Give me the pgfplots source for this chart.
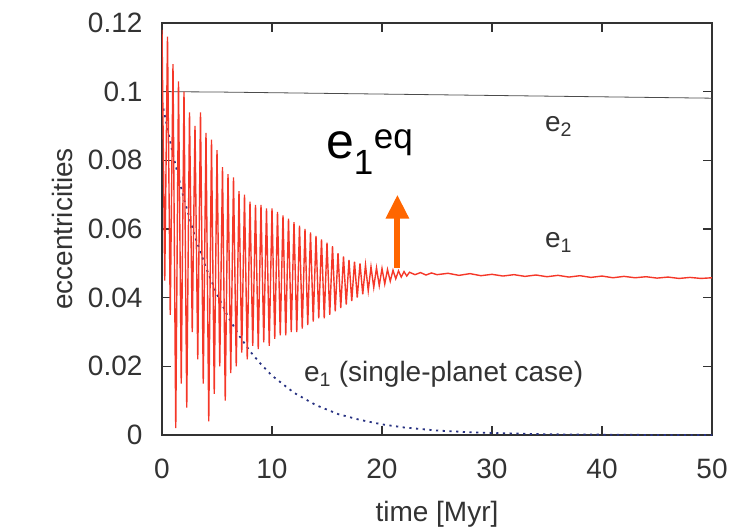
\documentclass[border=0pt]{standalone}
\usepackage{pgfplots}
\pgfplotsset{compat=1.18}
\usepackage{fontspec}
\setmainfont{Liberation Sans}
\usetikzlibrary{arrows.meta}
\definecolor{eone}{RGB}{245,55,40}
\definecolor{arroworange}{RGB}{255,102,0}
\definecolor{single}{RGB}{40,50,130}
\definecolor{axgray}{RGB}{50,50,50}
\begin{document}
\fontsize{28}{32}\selectfont
\begin{tikzpicture}
\begin{axis}[
  scale only axis,
  width=550pt, height=412pt,
  xmin=0, xmax=50, ymin=0, ymax=0.12,
  xtick={0,10,20,30,40,50},
  ytick={0,0.02,0.04,0.06,0.08,0.1,0.12},
  yticklabels={0,0.02,0.04,0.06,0.08,0.1,0.12},
  tick align=inside,
  major tick length=9pt,
  axis line style={axgray, line width=1.6pt},
  every tick/.style={axgray, line width=1.4pt},
  tick label style={font=\fontsize{28}{32}\selectfont, text=black!80},
  /pgf/number format/assume math mode=true,
  xticklabel style={yshift=-14pt},
  yticklabel style={xshift=-10pt},
  xlabel={time [Myr]},
  ylabel={eccentricities},
  label style={font=\fontsize{28}{32}\selectfont, text=black!80},
  xlabel style={yshift=-4pt},
  ylabel style={yshift=-4pt},
  clip=true,
]
\coordinate (sw) at (rel axis cs:0,0);
\coordinate (ne) at (rel axis cs:1,1);
% e2
\addplot[black!70, line width=0.8pt] coordinates {
(0,0.1000) (5,0.0999) (10,0.0997) (15,0.0995) (20,0.0993) (25,0.0991)
(30,0.0989) (35,0.0987) (40,0.0985) (45,0.0983) (50,0.0981)
};
% e1 (single planet)
\addplot[single, line width=1.8pt, dash pattern=on 2.2pt off 4.5pt] coordinates {
(0,0.0970) (1,0.0816) (2,0.0687) (3,0.0578) (4,0.0487) (5,0.0410)
(6,0.0345) (7,0.0290) (8,0.0244) (9,0.0206) (10,0.0173) (12,0.0123)
(14,0.0087) (16,0.0061) (18,0.0044) (20,0.0031) (22,0.0022) (25,0.0013)
(28,0.0008) (30,0.0006) (35,0.0002) (40,0.0001) (45,0.0000) (50,0.0000)
};
% e1
\addplot[eone, line width=1.4pt] coordinates {
(0,0.118) (0.25,0.045) (0.5,0.116) (0.75,0.035) (1.0,0.108) (1.25,0.002)
(1.5,0.103) (1.75,0.015) (2.0,0.100) (2.25,0.008) (2.5,0.094) (2.75,0.030)
(3.0,0.090) (3.25,0.022) (3.5,0.094) (3.75,0.015) (4.0,0.088) (4.25,0.004)
(4.5,0.086) (4.75,0.012) (5.0,0.083) (5.25,0.020) (5.5,0.078) (5.75,0.010)
(6.0,0.076) (6.25,0.018) (6.5,0.075) (6.75,0.020) (7.0,0.071) (7.25,0.024)
(7.5,0.070) (7.75,0.022) (8.0,0.068) (8.25,0.026) (8.5,0.067) (8.75,0.025)
(9.0,0.067) (9.25,0.027) (9.5,0.066) (9.75,0.026) (10.0,0.066) (10.25,0.028)
(10.5,0.065) (10.75,0.029) (11.0,0.064) (11.25,0.029) (11.5,0.063) (11.75,0.030)
(12.0,0.062) (12.25,0.030) (12.5,0.061) (12.75,0.031) (13.0,0.060) (13.25,0.032)
(13.5,0.059) (13.75,0.033) (14.0,0.058) (14.25,0.034) (14.5,0.057) (14.75,0.034)
(15.0,0.056) (15.25,0.035) (15.5,0.055) (15.75,0.036) (16.0,0.053) (16.25,0.037)
(16.5,0.052) (16.75,0.038) (17.0,0.051) (17.25,0.039) (17.5,0.0505) (17.75,0.040)
(18.0,0.050) (18.25,0.041) (18.5,0.0495) (18.75,0.042) (19.0,0.049) (19.25,0.043)
(19.5,0.0487) (19.75,0.0435) (20.0,0.0485) (20.25,0.044) (20.5,0.0482) (20.75,0.0448)
(21.0,0.048) (21.25,0.0455) (21.5,0.0478) (21.75,0.046) (22.0,0.0476) (22.25,0.0463)
(22.5,0.0474) (23,0.0467) (23.5,0.0473) (24,0.0466) (24.5,0.0472) (25,0.0467)
(26,0.0471) (27,0.0465) (28,0.0470) (29,0.0464) (30,0.0468) (31,0.0463)
(32,0.0467) (33,0.0462) (34,0.0466) (35,0.0461) (36,0.0465) (37,0.0460)
(38,0.0464) (39,0.0459) (40,0.0463) (41,0.0458) (42,0.0462) (43,0.0458)
(44,0.0461) (45,0.0457) (46,0.0460) (47,0.0456) (48,0.0459) (49,0.0456) (50,0.0458)
};
% annotations
\draw[arroworange, line width=6pt, -{Triangle[width=22pt,length=24pt]}]
  (axis cs:21.4,0.0487) -- (axis cs:21.4,0.0700);
\node[anchor=base west, inner sep=0pt, font=\fontsize{50}{56}\selectfont]
  at (axis cs:14.9,0.0805) {e\textsubscript{1}\textsuperscript{eq}};
\node[anchor=base west, inner sep=0pt, text=black!80] at (axis cs:34.8,0.0885) {e\textsubscript{2}};
\node[anchor=base west, inner sep=0pt, text=black!80] at (axis cs:34.8,0.0545) {e\textsubscript{1}};
\node[anchor=base west, inner sep=0pt, text=black!80] at (axis cs:12.9,0.0157) {e\textsubscript{1} (single-planet case)};
\end{axis}
\pgfresetboundingbox
\path ([xshift=-162pt,yshift=-93pt]sw) rectangle ([xshift=25pt,yshift=23pt]ne);
\end{tikzpicture}
\end{document}
